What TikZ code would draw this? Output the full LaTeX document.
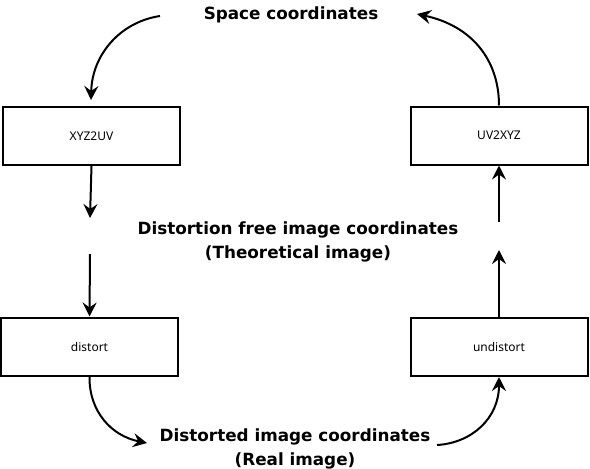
\documentclass[tikz,border=0pt]{standalone}
\usepackage{fontspec}
\setmainfont{DejaVu Sans}
\newfontfamily\boxfont{Noto Sans}
\usetikzlibrary{arrows.meta}
\begin{document}
\begin{tikzpicture}[x=1pt,y=-1pt,
  procbox/.style={draw=black, line width=2pt, minimum width=177pt, minimum height=58pt, inner sep=0pt, font=\boxfont\fontsize{12}{14}\selectfont},
  title/.style={font=\bfseries\fontsize{16.8}{24}\selectfont, align=center, inner sep=0pt},
  conn/.style={line width=2pt, -{Stealth[length=14pt,width=14pt,inset=5pt]}}]
\useasboundingbox (0,0) rectangle (590,469);
\node[procbox] (xyz) at (91.5,136) {XYZ2UV};
\node[procbox] (uvx) at (499,135.5) {UV2XYZ};
\node[procbox] (dist) at (89.5,346.5) {distort};
\node[procbox] (undist) at (499,347) {undistort};
\node[title] (space) at (291,14.5) {Space coordinates};
\node[title] (free) at (298,241.5) {Distortion free image coordinates\\(Theoretical image)};
\node[title] (real) at (295,448.5) {Distorted image coordinates\\(Real image)};
\coordinate (s1) at (160,16);
\coordinate (t1) at (91,100);
\coordinate (t2) at (90,218);
\coordinate (s3) at (90,254);
\coordinate (t4) at (147,443);
\coordinate (s5) at (437,445);
\coordinate (t6) at (499,250);
\coordinate (s7) at (499,222);
\coordinate (t8) at (417,14);
\draw[conn] (s1) .. controls (120,22) and (92,55) .. (t1);
\draw[conn] (xyz.south) -- (t2);
\draw[conn] (s3) -- (dist.north);
\draw[conn] (dist.south) .. controls (89,412) and (112,436) .. (t4);
\draw[conn] (s5) .. controls (472,443) and (499,418) .. (undist.south);
\draw[conn] (undist.north) -- (t6);
\draw[conn] (s7) -- (uvx.south);
\draw[conn] (uvx.north) .. controls (499,60) and (472,26) .. (t8);
\end{tikzpicture}
\end{document}
